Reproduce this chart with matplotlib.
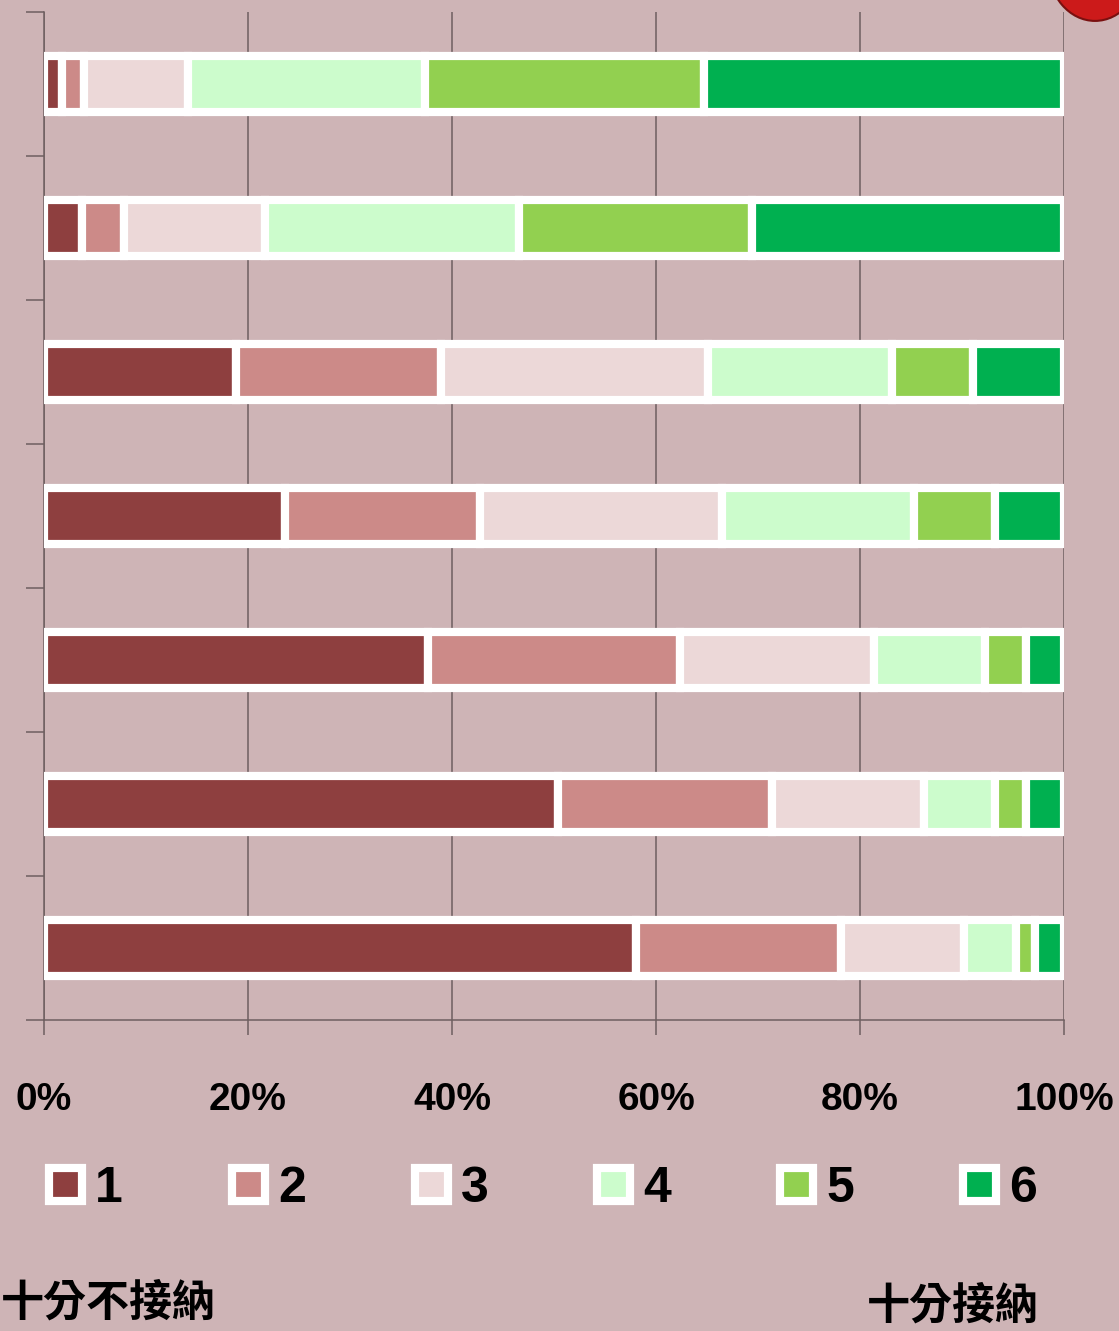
import matplotlib
matplotlib.use("Agg")
import matplotlib.pyplot as plt
from matplotlib.patches import Circle
import numpy as np

# ---- data (top bar first) ----
levels = ["1", "2", "3", "4", "5", "6"]
lvl1 = [1.8, 3.7, 18.8, 23.6, 37.6, 50.4, 58.0]
lvl2 = [2.1, 4.1, 20.1, 19.1, 24.8, 21.0, 20.1]
lvl3 = [10.2, 13.9, 26.2, 23.8, 19.0, 14.9, 12.1]
lvl4 = [23.3, 24.9, 18.0, 18.8, 10.9, 6.9, 5.1]
lvl5 = [27.3, 22.8, 8.0, 7.9, 4.0, 3.1, 1.9]
lvl6 = [35.3, 30.6, 8.9, 6.8, 3.7, 3.7, 2.8]
xtick_vals = [0, 20, 40, 60, 80, 100]
xtick_labels = ["0%", "20%", "40%", "60%", "80%", "100%"]
left_label = "十分不接納"
right_label = "十分接納"

colors = ["#8e3f3f", "#cc8a88", "#ecd8d8", "#ccfccc", "#92d050", "#00b050"]
bg = "#ceb4b6"
gridc = "#6e5f60"

W, H, DPI = 1119, 1331, 100
fig = plt.figure(figsize=(W / DPI, H / DPI), dpi=DPI, facecolor=bg)
ax = fig.add_axes([44 / W, 1 - 1020 / H, (1064 - 44) / W, (1020 - 12) / H])
ax.set_facecolor(bg)

series = [lvl1, lvl2, lvl3, lvl4, lvl5, lvl6]
n = len(lvl1)
ypos = np.arange(n)
left = np.zeros(n)
for lab, vals, c in zip(levels, series, colors):
    vals = np.array(vals)
    ax.barh(ypos, vals, left=left, height=0.395, color=c, edgecolor="white",
            linewidth=5.9, label=lab, zorder=3)
    left += vals

ax.set_xlim(0, 100)
ax.set_ylim(n - 0.5, -0.5)
ax.set_axisbelow(True)
ax.xaxis.grid(True, color=gridc, linewidth=1.1)
ax.set_xticks(xtick_vals)
ax.set_xticklabels(xtick_labels, fontsize=28, fontweight="bold",
                   family="Liberation Sans")
ax.tick_params(axis="x", direction="out", length=11, width=1.1, color=gridc, pad=34)
ax.set_yticks(np.arange(-0.5, n + 0.5, 1))
ax.set_yticklabels([])
ax.tick_params(axis="y", direction="out", length=13, width=1.1, color=gridc)
for s in ["top", "right"]:
    ax.spines[s].set_visible(False)
for s in ["left", "bottom"]:
    ax.spines[s].set_color(gridc)
    ax.spines[s].set_linewidth(1.1)

leg = fig.legend(loc="center left", bbox_to_anchor=(49 / W, 1 - 1189 / H), ncol=6,
                 frameon=False, prop={"family": "Liberation Sans", "weight": "bold", "size": 36},
                 handlelength=0.66, handleheight=0.64, handletextpad=0.26,
                 columnspacing=2.18, borderpad=0, borderaxespad=0)

fig.text(1 / W, 1 - 1303 / H, left_label, fontsize=31, fontweight="bold",
         family=["Noto Sans CJK TC", "DejaVu Sans"], ha="left", va="center")
fig.text(867 / W, 1 - 1306 / H, right_label, fontsize=31, fontweight="bold",
         family=["Noto Sans CJK TC", "DejaVu Sans"], ha="left", va="center")

# decorative corner badge
fig.patches.append(Circle((1095 / W, 1 + 35 / H), 47 / W, transform=fig.transFigure,
                          facecolor="#cc1a1a", edgecolor="#7a1010", linewidth=1.5))

fig.savefig("out.png", dpi=DPI, facecolor=bg)
